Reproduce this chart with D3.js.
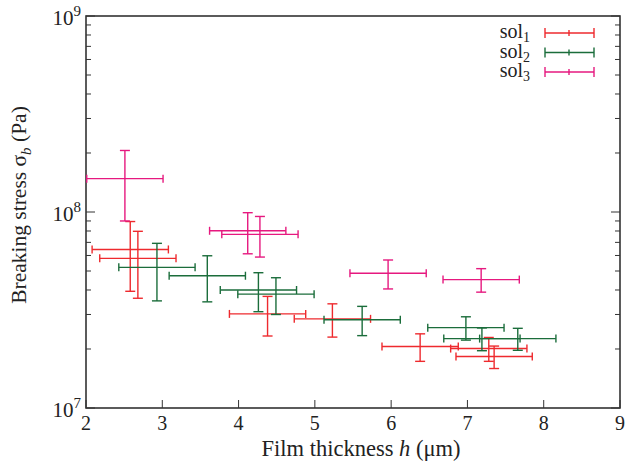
<!DOCTYPE html>
<html>
<head>
<meta charset="utf-8">
<script src="https://cdn.jsdelivr.net/npm/d3@7"></script>
<style>
body { margin: 0; background: #fff; }
</style>
</head>
<body>
<svg id="chart" width="632" height="461"></svg>
<script>
// data
let sol1H = [2.58, 2.68, 4.38, 5.23, 6.38, 7.28, 7.35];
let sol1HErr = [0.5, 0.5, 0.5, 0.5, 0.5, 0.5, 0.5];
let sol1Sigma = [6.44e7, 5.8e7, 3.02e7, 2.85e7, 2.06e7, 2.01e7, 1.83e7];
let sol1SigmaErr = [2.5e7, 2.17e7, 0.69e7, 0.55e7, 0.33e7, 0.28e7, 0.24e7];

let sol2H = [2.93, 3.59, 4.26, 4.49, 5.62, 6.98, 7.19, 7.66];
let sol2HErr = [0.5, 0.5, 0.5, 0.5, 0.5, 0.5, 0.5, 0.5];
let sol2Sigma = [5.22e7, 4.73e7, 4.0e7, 3.81e7, 2.82e7, 2.57e7, 2.26e7, 2.26e7];
let sol2SigmaErr = [1.7e7, 1.25e7, 0.9e7, 0.81e7, 0.48e7, 0.35e7, 0.3e7, 0.29e7];

let sol3H = [2.51, 4.12, 4.28, 5.96, 7.18];
let sol3HErr = [0.5, 0.5, 0.5, 0.5, 0.5];
let sol3Sigma = [1.48e8, 8.02e7, 7.69e7, 4.87e7, 4.52e7];
let sol3SigmaErr = [5.8e7, 1.9e7, 1.8e7, 0.82e7, 0.62e7];

let seriesNames = ["1", "2", "3"];
let seriesColors = ["#ee2a2e", "#1b6d3b", "#e6197f"];
let xTicks = [2, 3, 4, 5, 6, 7, 8, 9];
let yMajorExp = [7, 8, 9];

let fontFamily = "'Liberation Serif', 'Times New Roman', serif";
let textColor = "#222222";
let plotLeft = 86, plotRight = 620, plotTop = 16, plotBottom = 408;
let svg = d3.select("#chart")
    .attr("font-family", fontFamily)
    .attr("fill", textColor);

let x = d3.scaleLinear().domain([2, 9]).range([plotLeft, plotRight]);
let y = d3.scaleLog().domain([1e7, 1e9]).range([plotBottom, plotTop]);

// minor ticks on log axis
let yMinor = [];
for (let e = 7; e < 9; e++) {
    for (let m = 2; m <= 9; m++) yMinor.push(m * Math.pow(10, e));
}

let tickG = svg.append("g").attr("stroke", "#333").attr("stroke-width", 1);
yMinor.forEach(function(v) {
    tickG.append("line").attr("x1", plotLeft).attr("x2", plotLeft + 5).attr("y1", y(v)).attr("y2", y(v));
    tickG.append("line").attr("x1", plotRight).attr("x2", plotRight - 5).attr("y1", y(v)).attr("y2", y(v));
});
yMajorExp.forEach(function(e) {
    let v = Math.pow(10, e);
    tickG.append("line").attr("x1", plotLeft).attr("x2", plotLeft + 9).attr("y1", y(v)).attr("y2", y(v));
    tickG.append("line").attr("x1", plotRight).attr("x2", plotRight - 9).attr("y1", y(v)).attr("y2", y(v));
});
xTicks.forEach(function(t) {
    tickG.append("line").attr("x1", x(t)).attr("x2", x(t)).attr("y1", plotBottom).attr("y2", plotBottom - 8);
});

// frame
svg.append("rect")
    .attr("x", plotLeft).attr("y", plotTop)
    .attr("width", plotRight - plotLeft).attr("height", plotBottom - plotTop)
    .attr("fill", "none").attr("stroke", "#333").attr("stroke-width", 1.6);

// tick labels
xTicks.forEach(function(t) {
    svg.append("text").attr("x", x(t)).attr("y", plotBottom + 22)
        .attr("text-anchor", "middle").attr("font-size", 20).text(t);
});
yMajorExp.forEach(function(e) {
    let txt = svg.append("text").attr("x", plotLeft - 5).attr("y", y(Math.pow(10, e)) + 9)
        .attr("text-anchor", "end").attr("font-size", 21);
    txt.append("tspan").text("10");
    txt.append("tspan").attr("dy", -9).attr("font-size", 15).text(e);
});

// axis titles
let xt = svg.append("text").attr("x", 361).attr("y", 456)
    .attr("text-anchor", "middle").attr("font-size", 22.5);
xt.append("tspan").text("Film thickness ");
xt.append("tspan").attr("font-style", "italic").text("h");
xt.append("tspan").text(" (\u03bcm)");

let yt = svg.append("text").attr("transform", "translate(26,205) rotate(-90)")
    .attr("text-anchor", "middle").attr("font-size", 21.5);
yt.append("tspan").text("Breaking stress \u03c3");
yt.append("tspan").attr("font-style", "italic").attr("font-size", 15).attr("dy", 5).text("b");
yt.append("tspan").attr("dy", -5).text(" (Pa)");

// error bars
function drawSeries(hs, hErr, sig, sigErr, color) {
    let g = svg.append("g").attr("stroke", color).attr("stroke-width", 1.4).attr("fill", "none");
    hs.forEach(function(h, i) {
        let cx = x(h), cy = y(sig[i]);
        let x0 = x(h - hErr[i]), x1 = x(h + hErr[i]);
        let y0 = y(sig[i] + sigErr[i]), y1 = y(sig[i] - sigErr[i]);
        g.append("line").attr("x1", x0).attr("x2", x1).attr("y1", cy).attr("y2", cy);
        g.append("line").attr("x1", x0).attr("x2", x0).attr("y1", cy - 4).attr("y2", cy + 4);
        g.append("line").attr("x1", x1).attr("x2", x1).attr("y1", cy - 4).attr("y2", cy + 4);
        g.append("line").attr("x1", cx).attr("x2", cx).attr("y1", y0).attr("y2", y1);
        g.append("line").attr("x1", cx - 5).attr("x2", cx + 5).attr("y1", y0).attr("y2", y0);
        g.append("line").attr("x1", cx - 5).attr("x2", cx + 5).attr("y1", y1).attr("y2", y1);
    });
}
drawSeries(sol1H, sol1HErr, sol1Sigma, sol1SigmaErr, seriesColors[0]);
drawSeries(sol2H, sol2HErr, sol2Sigma, sol2SigmaErr, seriesColors[1]);
drawSeries(sol3H, sol3HErr, sol3Sigma, sol3SigmaErr, seriesColors[2]);

// legend
seriesNames.forEach(function(n, i) {
    let ly = 33 + i * 19.5;
    let t = svg.append("text").attr("x", 530).attr("y", ly + 5)
        .attr("text-anchor", "end").attr("font-size", 20);
    t.append("tspan").text("sol");
    t.append("tspan").attr("dy", 4).attr("font-size", 14).text(n);
    let g = svg.append("g").attr("stroke", seriesColors[i]).attr("stroke-width", 1.4);
    g.append("line").attr("x1", 545).attr("x2", 594).attr("y1", ly).attr("y2", ly);
    g.append("line").attr("x1", 545).attr("x2", 545).attr("y1", ly - 5).attr("y2", ly + 5);
    g.append("line").attr("x1", 594).attr("x2", 594).attr("y1", ly - 5).attr("y2", ly + 5);
    g.append("line").attr("x1", 569).attr("x2", 569).attr("y1", ly - 3).attr("y2", ly + 3);
});
</script>
</body>
</html>
